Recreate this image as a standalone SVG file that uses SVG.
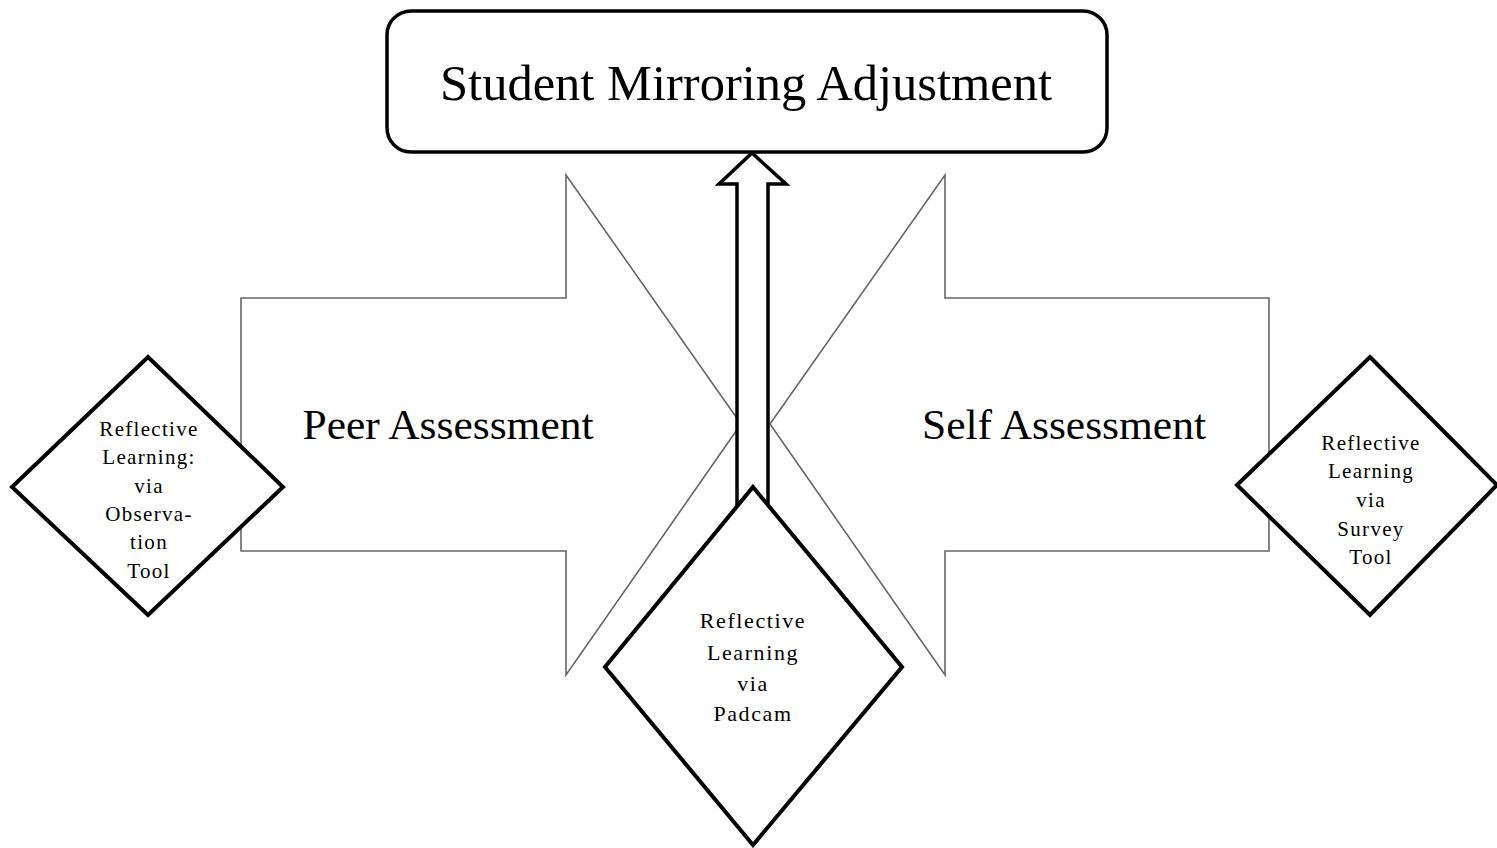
<svg xmlns="http://www.w3.org/2000/svg" width="1497" height="848" viewBox="0 0 1497 848">
<style>
.big{fill:#fff;stroke:#666;stroke-width:1.6;stroke-linejoin:miter}
.dia{fill:#fff;stroke:#000;stroke-width:4;stroke-linejoin:miter}
.t{font-family:"Liberation Serif","Times New Roman",serif;fill:#000;text-anchor:middle}
.s{font-size:21px;letter-spacing:1.3px}
.p{font-size:22px;letter-spacing:1.6px}
</style>
<rect width="1497" height="848" fill="#fff"/>
<g id="peer">
<polygon class="big" points="241,298 566,298 566,175 741,424 566,675 566,551 241,551"/>
<text class="t" x="448" y="439" font-size="42" textLength="291" lengthAdjust="spacingAndGlyphs">Peer Assessment</text>
</g>
<g id="self">
<polygon class="big" points="1269,298 945,298 945,175 770,424 945,675 945,551 1269,551"/>
<text class="t" x="1064" y="439" font-size="42" textLength="284" lengthAdjust="spacingAndGlyphs">Self Assessment</text>
</g>
<g id="connectors">
<polygon points="737,510 737,184 719,184 752,153 786,184 768,184 768,510" fill="#fff" stroke="#000" stroke-width="3.5" stroke-linejoin="miter"/>
</g>
<g id="top">
<rect x="387" y="11" width="720" height="141" rx="24" ry="24" fill="#fff" stroke="#000" stroke-width="3.5"/>
<text class="t" x="746" y="100" font-size="50" textLength="612" lengthAdjust="spacingAndGlyphs">Student Mirroring Adjustment</text>
</g>
<g id="observation">
<polygon class="dia" points="148,357 283,487 148,615 12,487"/>
<text class="t s" x="149" y="436">Reflective</text>
<text class="t s" x="149" y="464">Learning:</text>
<text class="t s" x="149" y="493">via</text>
<text class="t s" x="149" y="521">Observa-</text>
<text class="t s" x="149" y="549">tion</text>
<text class="t s" x="149" y="578">Tool</text>
</g>
<g id="survey">
<polygon class="dia" points="1370,357 1497,485 1370,615 1237,485"/>
<text class="t s" x="1371" y="450">Reflective</text>
<text class="t s" x="1371" y="478">Learning</text>
<text class="t s" x="1371" y="507">via</text>
<text class="t s" x="1371" y="536">Survey</text>
<text class="t s" x="1371" y="564">Tool</text>
</g>
<g id="padcam">
<polygon class="dia" points="753,487 902,667 753,845 605,667"/>
<text class="t p" x="753" y="628">Reflective</text>
<text class="t p" x="753" y="660">Learning</text>
<text class="t p" x="753" y="691">via</text>
<text class="t p" x="753" y="721">Padcam</text>
</g>
</svg>
